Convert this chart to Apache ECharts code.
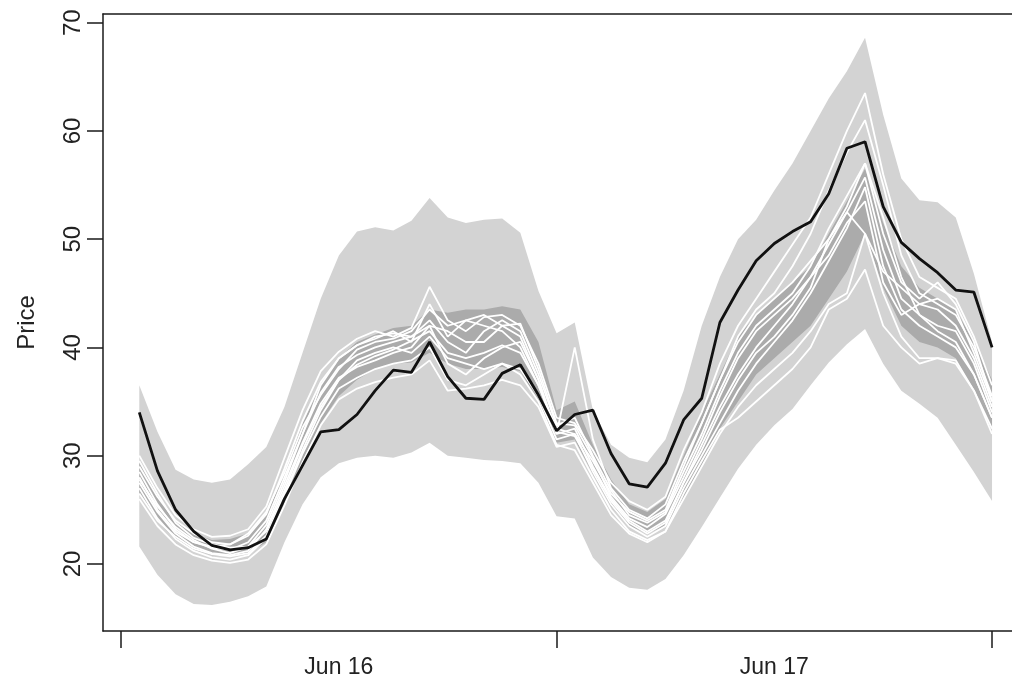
<!DOCTYPE html>
<html>
<head>
<meta charset="utf-8">
<script src="https://cdn.jsdelivr.net/npm/echarts@6/dist/echarts.min.js"></script>
<style>
  html, body { margin: 0; padding: 0; background: #ffffff; }
  #chart { width: 1012px; height: 683px; }
</style>
</head>
<body>
<div id="chart"></div>
<script>
// Hour index of each observation (two days, hourly)
const hours = [1,2,3,4,5,6,7,8,9,10,11,12,13,14,15,16,17,18,19,20,21,22,23,24,
               25,26,27,28,29,30,31,32,33,34,35,36,37,38,39,40,41,42,43,44,45,46,47,48];

// Day boundaries (tick marks) and day labels placed at midday
const dayTicks = [0, 24, 48];
const dayLabelPos = [12, 36];
const dayLabels = ['Jun 16', 'Jun 17'];
const priceTicks = [20, 30, 40, 50, 60, 70];

// Realised price
const actual = [34.0,28.6,25.0,23.0,21.7,21.3,21.5,22.3,26.0,29.1,32.2,32.4,33.8,36.0,37.9,37.7,40.5,37.3,35.3,35.2,37.6,38.4,35.6,32.3,
                33.8,34.2,30.2,27.4,27.1,29.3,33.3,35.3,42.3,45.3,48.0,49.6,50.7,51.6,54.2,58.4,59.0,53.0,49.7,48.2,46.9,45.3,45.1,40.0];

// Outer prediction band
const outerLo = [21.6,19.0,17.2,16.3,16.2,16.5,17.0,17.9,22.0,25.5,28.0,29.3,29.8,30.0,29.8,30.3,31.2,30.0,29.8,29.6,29.5,29.3,27.5,24.4,
                 24.2,20.6,18.8,17.8,17.6,18.6,20.8,23.4,26.1,28.8,31.0,32.8,34.3,36.5,38.6,40.3,41.7,38.5,36.0,34.8,33.5,31.0,28.5,25.8];
const outerHi = [36.5,32.2,28.7,27.8,27.5,27.8,29.2,30.8,34.5,39.5,44.5,48.5,50.7,51.1,50.8,51.7,53.8,52.0,51.5,51.8,51.9,50.6,45.2,41.3,
                 42.3,34.2,31.0,29.8,29.4,31.5,36.0,42.0,46.5,50.0,51.8,54.5,57.0,60.0,63.0,65.5,68.6,61.5,55.6,53.6,53.4,52.0,46.8,40.5];

// Inner (central) band
const innerLo = [26.5,24.0,22.2,21.3,20.8,20.7,21.0,22.0,25.5,29.5,33.0,35.5,37.0,38.0,38.5,38.6,39.5,38.5,38.0,38.0,38.2,37.8,35.0,31.2,
                 31.5,28.3,25.3,23.5,22.8,23.5,26.0,29.0,32.5,35.0,37.5,39.0,40.5,42.0,44.5,47.0,50.5,45.5,42.0,40.5,40.0,39.0,36.0,32.5];
const innerHi = [29.5,26.5,24.0,22.8,22.2,22.3,22.8,24.5,28.5,33.0,36.5,39.0,40.5,41.2,41.8,42.0,43.5,43.2,43.5,43.5,43.8,43.5,40.5,34.2,
                 35.0,31.0,27.8,25.5,24.8,26.0,30.0,34.0,37.5,41.0,43.0,44.5,46.0,47.5,50.5,53.5,56.5,51.5,47.5,45.5,44.5,43.5,40.5,37.0];

// Simulated price paths
const path1 = [30.0,27.0,24.5,23.2,22.5,22.6,23.2,25.3,29.8,34.2,37.8,39.6,40.8,41.5,41.0,41.8,45.6,42.5,41.5,42.8,43.0,42.0,38.5,33.5,
               33.0,30.5,27.5,25.8,25.0,26.2,30.5,34.0,38.5,42.0,44.5,47.0,49.5,52.0,56.0,60.0,63.5,56.0,50.0,46.5,45.5,44.5,41.0,36.5];
const path2 = [29.0,26.2,24.0,22.8,22.0,21.8,22.6,24.6,28.8,33.2,36.8,39.0,40.2,40.8,41.5,40.5,44.0,41.0,42.5,43.0,42.0,41.0,37.0,32.0,
               40.0,31.5,27.0,25.0,24.2,25.5,29.5,33.0,37.0,41.0,43.5,45.0,47.5,50.5,54.5,58.0,61.0,55.0,48.5,45.0,44.0,43.0,40.0,35.5];
const path3 = [28.5,25.5,23.2,22.0,21.5,21.3,22.0,24.0,28.0,32.0,35.8,38.2,39.3,40.0,40.5,41.0,42.5,40.5,39.5,41.5,42.5,41.5,37.5,32.8,
               33.5,30.0,26.8,24.5,23.8,24.8,28.5,32.0,36.0,39.5,42.0,43.5,45.0,47.5,51.0,54.0,57.0,50.5,46.0,44.5,46.0,44.0,40.5,35.0];
const path4 = [27.5,24.8,22.8,21.6,21.0,20.8,21.2,23.2,27.2,31.2,34.8,37.2,38.2,38.8,39.5,40.0,42.0,38.5,37.5,39.0,40.0,40.5,37.0,32.0,
               32.5,29.0,26.0,24.0,23.0,24.0,27.5,31.0,34.5,37.5,40.0,42.0,44.0,46.5,49.5,52.5,55.7,49.0,44.5,43.0,42.0,41.5,38.5,34.0];
const path5 = [27.0,24.2,22.3,21.2,20.6,20.4,20.8,22.4,26.2,30.2,33.6,36.2,37.2,38.0,38.5,38.8,40.0,37.0,36.5,37.5,38.5,38.0,35.5,31.5,
               32.0,28.5,25.5,23.5,22.5,23.5,27.0,30.0,33.0,36.0,38.5,40.5,42.5,45.0,48.0,51.0,54.8,47.5,43.5,42.0,41.0,40.0,37.5,33.5];
const path6 = [26.0,23.5,21.8,20.8,20.3,20.1,20.4,21.8,25.4,29.4,32.8,35.2,36.2,36.8,37.2,37.5,38.8,36.0,36.2,36.5,37.0,36.5,34.5,30.8,
               31.2,28.0,25.0,23.0,22.2,23.0,26.0,29.0,32.0,34.5,36.5,38.0,39.5,41.5,44.0,45.0,50.5,45.0,41.0,39.0,39.0,38.5,36.0,32.5];
const path7 = [29.5,26.5,23.8,22.4,21.8,21.5,21.6,23.0,26.8,31.0,34.5,37.0,38.8,39.5,40.0,39.5,41.0,39.0,38.5,38.0,38.5,37.5,35.0,31.0,
               30.5,27.5,24.5,22.8,22.0,23.0,26.5,29.5,32.4,33.5,35.0,36.5,38.0,40.0,43.5,44.5,47.2,42.0,40.0,38.5,39.0,38.8,36.0,32.0];
const path8 = [28.0,25.0,23.0,22.0,21.6,21.8,22.8,24.8,28.4,32.6,35.6,38.0,39.8,40.5,40.8,41.5,43.5,42.0,42.5,42.0,41.5,40.0,36.5,32.5,
               32.0,29.5,26.5,24.8,24.0,25.0,29.0,33.0,37.0,40.5,43.0,44.5,46.0,48.0,50.0,52.5,50.5,47.0,45.5,44.0,43.5,42.0,39.0,34.5];
const path9 = [27.8,25.3,23.4,22.2,21.4,21.0,21.6,23.6,27.6,32.0,36.5,39.0,40.2,41.0,41.3,41.0,42.0,41.5,40.5,40.5,42.0,42.2,38.0,33.0,
               32.8,29.8,26.2,24.2,23.4,24.6,28.0,31.5,35.5,39.0,41.5,43.0,44.5,46.5,48.5,51.5,53.5,46.0,43.0,44.0,44.5,43.5,39.5,35.0];
const path10 = [26.5,24.0,22.5,21.4,20.9,20.7,21.0,22.6,26.5,30.5,34.2,37.0,38.4,39.2,39.8,40.6,41.5,39.5,39.0,39.5,40.2,39.5,36.5,32.2,
                31.8,28.8,25.8,23.8,22.8,23.8,27.5,30.5,34.0,37.0,39.5,41.0,43.0,45.5,50.0,53.0,57.0,52.0,46.5,43.0,41.5,40.5,37.5,33.5];
const paths = [path1, path2, path3, path4, path5, path6, path7, path8, path9, path10];

const pairs = (ys) => hours.map((h, i) => [h, ys[i]]);

const LIGHT = '#d3d3d3';
const DARK = '#ababab';
const AXIS = '#1a1a1a';
const TEXT = '#222222';
const FONT = '"Liberation Sans", Arial, sans-serif';

// A filled band between two boundary series, drawn as one polygon in data coordinates
function bandSeries(lo, hi, color) {
  return {
    type: 'custom',
    coordinateSystem: 'cartesian2d',
    silent: true,
    animation: false,
    clip: true,
    data: [[hours[0], lo[0]]],
    renderItem: (params, api) => {
      const upper = hours.map((h, i) => api.coord([h, hi[i]]));
      const lower = hours.map((h, i) => api.coord([h, lo[i]])).reverse();
      return {
        type: 'polygon',
        shape: { points: upper.concat(lower) },
        style: { fill: color, stroke: null }
      };
    }
  };
}

const series = [
  bandSeries(outerLo, outerHi, LIGHT),
  bandSeries(innerLo, innerHi, DARK)
].concat(paths.map(p => ({
    type: 'line', data: pairs(p), showSymbol: false, silent: true, animation: false,
    lineStyle: { color: '#ffffff', width: 1.8 }
  })))
  .concat([{
    type: 'line', data: pairs(actual), showSymbol: false, silent: true, animation: false,
    lineStyle: { color: '#111111', width: 2.8 }
  }]);

const chart = echarts.init(document.getElementById('chart'), null, { renderer: 'canvas' });
chart.setOption({
  backgroundColor: '#ffffff',
  animation: false,
  grid: { left: 103, top: 14, right: 0, bottom: 52 },
  xAxis: [
    {
      type: 'value', position: 'bottom', min: -1, max: 49.1,
      axisLine: { show: true, onZero: false, lineStyle: { color: AXIS, width: 1.5 } },
      axisTick: { show: true, customValues: dayTicks, length: 17, lineStyle: { color: AXIS, width: 1.5 } },
      axisLabel: {
        customValues: dayLabelPos, margin: 25, fontSize: 23, color: TEXT, fontFamily: FONT,
        formatter: (v) => dayLabels[dayLabelPos.indexOf(v)] || ''
      },
      splitLine: { show: false }
    },
    {
      type: 'value', position: 'top', min: -1, max: 49.1,
      axisLine: { show: true, onZero: false, lineStyle: { color: AXIS, width: 1.5 } },
      axisTick: { show: false }, axisLabel: { show: false }, splitLine: { show: false }
    }
  ],
  yAxis: {
    type: 'value', min: 13.8, max: 70.8,
    name: 'Price', nameLocation: 'middle', nameRotate: 90, nameGap: 64,
    nameTextStyle: { fontSize: 24, color: TEXT, fontFamily: FONT },
    axisLine: { show: true, onZero: false, lineStyle: { color: AXIS, width: 1.5 } },
    axisTick: { show: true, customValues: priceTicks, length: 16, lineStyle: { color: AXIS, width: 1.5 } },
    axisLabel: { customValues: priceTicks, rotate: 90, margin: 18, fontSize: 24, color: TEXT, fontFamily: FONT },
    splitLine: { show: false }
  },
  series: series
});
</script>
</body>
</html>
